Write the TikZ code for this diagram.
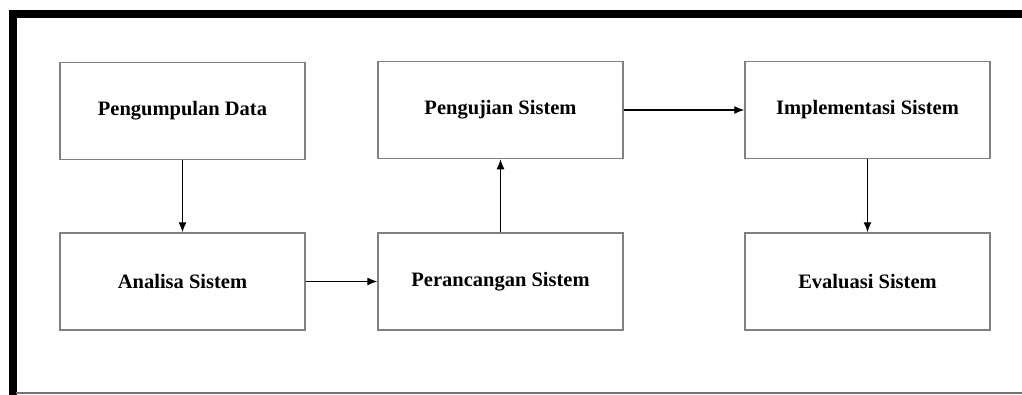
\documentclass[tikz,border=0pt]{standalone}
\usepackage{fontspec}
\setmainfont{Liberation Serif}
\usetikzlibrary{arrows.meta}

\tikzset{
    stage/.style={draw=black!50,line width=1.5pt,minimum width=245pt,minimum height=97pt,
        font=\fontsize{20.5}{24}\selectfont\bfseries},
    >={Latex[length=10pt,width=8pt]}
}

\begin{document}
\begin{tikzpicture}[x=1pt,y=-1pt]
    \useasboundingbox (0,0) rectangle (1022,394);
    \draw[line width=7.5pt](13,1022)--(13,13.8)--(1022,13.8);
    \draw[black!55,line width=1.5pt](16,393)--(1022,393);

    \node[stage](data) at (182.5,111){Pengumpulan Data};
    \node[stage](analisa) at (182.5,281.5){Analisa Sistem};
    \node[stage](rancang) at (500.5,281.5){Perancangan Sistem};
    \node[stage](uji) at (500.5,110){Pengujian Sistem};
    \node[stage](impl) at (867.5,110){Implementasi Sistem};
    \node[stage](eval) at (867.5,281.5){Evaluasi Sistem};

    \draw[->,line width=1.2pt](data)--(analisa);
    \draw[->,line width=1.2pt](analisa)--(rancang);
    \draw[->,line width=1.2pt](rancang)--(uji);
    \draw[->,line width=1.2pt](uji)--(impl);
    \draw[->,line width=1.2pt](impl)--(eval);
\end{tikzpicture}
\end{document}
